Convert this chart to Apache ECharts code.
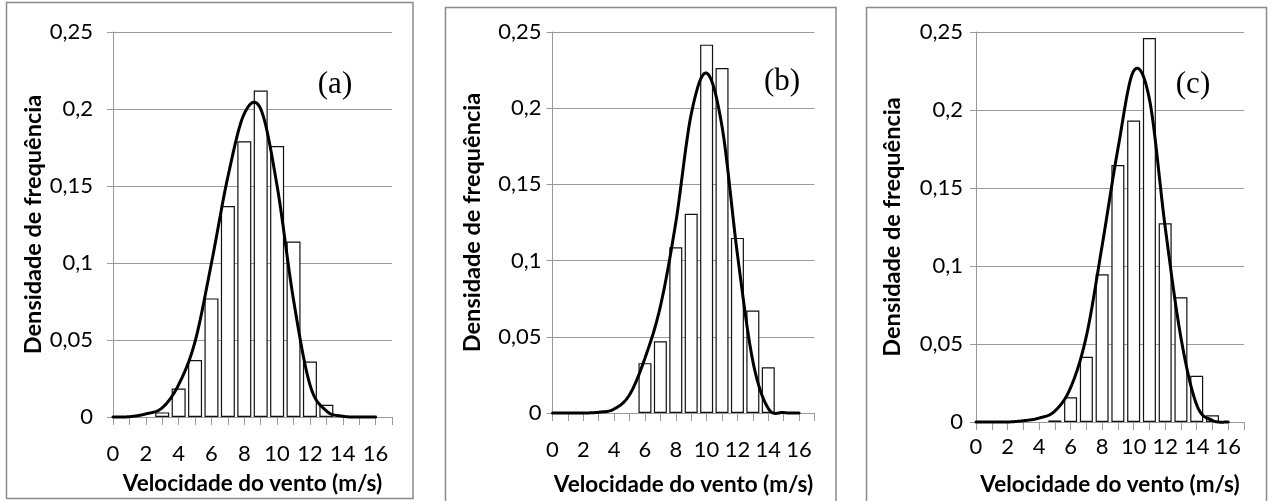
<!DOCTYPE html>
<html>
<head>
<meta charset="utf-8">
<script src="https://cdn.jsdelivr.net/npm/echarts@6/dist/echarts.min.js"></script>
<style>
html,body{margin:0;padding:0;background:#fff;}
#chart{width:1271px;height:501px;}
</style>
</head>
<body>
<div id="chart"></div>
<script>
// Wind speed classes (m/s)
var speeds = [0,1,2,3,4,5,6,7,8,9,10,11,12,13,14,15,16];
// Histogram frequency densities
var barsA = [0,0,0,0.003,0.0185,0.037,0.077,0.137,0.179,0.212,0.176,0.114,0.036,0.008,0,0,0];
var barsB = [0,0,0,0,0,0,0.0327,0.0471,0.1088,0.1307,0.2417,0.2264,0.1149,0.0673,0.030,0,0];
var barsC = [0,0,0,0,0,0.001,0.0158,0.0418,0.0947,0.1647,0.1932,0.2462,0.1274,0.080,0.0296,0.0043,0];
// Fitted density curves (values at each speed)
var curveA = [0,0.0002,0.002,0.006,0.021,0.049,0.100,0.156,0.197,0.200,0.150,0.076,0.021,0.004,0.0005,0,0];
var curveB = [0,0,0,0.0005,0.0026,0.012,0.036,0.070,0.125,0.196,0.223,0.188,0.104,0.034,0.003,0.0003,0];
var curveC = [0,0,0,0.0008,0.0025,0.007,0.022,0.055,0.113,0.175,0.225,0.207,0.125,0.054,0.011,0.001,0];
var xTickLabels = ['0','2','4','6','8','10','12','14','16'];
var yTickValues = [0,0.05,0.1,0.15,0.2,0.25];
var panelLabels = ['(a)','(b)','(c)'];
var xName = 'Velocidade do vento (m/s)';
var yName = 'Densidade de frequência';

var FONT = 'Lato';
var GRID_COLOR = '#9a9a9a';

var grids = [
  {left:113, top:32, width:279, height:385},
  {left:552.5, top:32, width:262, height:382},
  {left:976, top:32, width:268, height:392}
];
var yLabelMargin = [20, 11, 13];
var xLabelMargin = [26, 26, 14];
var xNameGap = [55, 60, 51];
var yNameGap = [67, 68, 72];
var barWidths = [14, 13, 13];

function pairs(vals, skipZero){
  return speeds.map(function(s,i){
    var v = vals[i];
    if (skipZero && !v) return [s, '-'];
    return [s, v];
  });
}

// Excel-style smoothed line: cubic Bezier through the data points,
// tangents from neighbouring points (Catmull-Rom), positioned via api.coord.
function smoothRenderer(vals){
  return function(params, api){
    if (params.dataIndex !== 0) return null;
    var p = speeds.map(function(s,i){ return api.coord([s, vals[i]]); });
    var out = [];
    var n = p.length;
    for (var i = 0; i < n - 1; i++) {
      var p0 = p[Math.max(i-1,0)], p1 = p[i], p2 = p[i+1], p3 = p[Math.min(i+2,n-1)];
      var c1 = [p1[0] + (p2[0]-p0[0])/6, p1[1] + (p2[1]-p0[1])/6];
      var c2 = [p2[0] - (p3[0]-p1[0])/6, p2[1] - (p3[1]-p1[1])/6];
      var steps = 24;
      for (var k = (i === 0 ? 0 : 1); k <= steps; k++) {
        var t = k/steps, u = 1-t;
        var x = u*u*u*p1[0] + 3*u*u*t*c1[0] + 3*u*t*t*c2[0] + t*t*t*p2[0];
        var y = u*u*u*p1[1] + 3*u*u*t*c1[1] + 3*u*t*t*c2[1] + t*t*t*p2[1];
        out.push([x, y]);
      }
    }
    return {
      type: 'polyline',
      shape: {points: out},
      style: {stroke: '#000', lineWidth: 3, fill: null, lineJoin: 'round', lineCap: 'round'},
      z2: 10
    };
  };
}

var xAxes = [], yAxes = [], series = [];
var barSets = [barsA, barsB, barsC];
var curveSets = [curveA, curveB, curveC];
for (var g = 0; g < 3; g++) {
  xAxes.push({
    gridIndex: g, type: 'value', min: 0, max: 17, interval: 1,
    name: xName, nameLocation: 'middle', nameGap: xNameGap[g],
    nameTextStyle: {fontFamily: FONT, fontWeight: 'bold', fontSize: 22.5, color: '#000'},
    axisLine: {show: true, lineStyle: {color: GRID_COLOR, width: 1}},
    axisTick: {show: true, length: 8, lineStyle: {color: GRID_COLOR, width: 1}},
    splitLine: {show: false},
    axisLabel: {
      margin: xLabelMargin[g], fontFamily: FONT, fontSize: 22, color: '#000',
      showMaxLabel: true,
      formatter: function(v){
        var s = String(v);
        return xTickLabels.indexOf(s) >= 0 ? s : '';
      }
    }
  });
  yAxes.push({
    gridIndex: g, type: 'value', min: 0, max: 0.25, interval: 0.05,
    name: yName, nameLocation: 'middle', nameGap: yNameGap[g], nameRotate: 90,
    nameTextStyle: {fontFamily: FONT, fontWeight: 'bold', fontSize: 23.5, color: '#000'},
    axisLine: {show: true, lineStyle: {color: GRID_COLOR, width: 1}},
    axisTick: {show: true, length: 6, lineStyle: {color: GRID_COLOR, width: 1}},
    splitLine: {show: true, lineStyle: {color: GRID_COLOR, width: 1}},
    axisLabel: {
      margin: yLabelMargin[g], fontFamily: FONT, fontSize: 22, color: '#000',
      formatter: function(v){
        var r = Math.round(v*100)/100;
        return yTickValues.indexOf(r) >= 0 ? String(r).replace('.', ',') : '';
      }
    }
  });
  series.push({
    type: 'bar', xAxisIndex: g, yAxisIndex: g,
    data: pairs(barSets[g], true),
    barWidth: barWidths[g],
    itemStyle: {color: '#ffffff', borderColor: '#111', borderWidth: 1.2},
    silent: true, animation: false
  });
  series.push({
    type: 'custom', coordinateSystem: 'cartesian2d', xAxisIndex: g, yAxisIndex: g,
    data: pairs(curveSets[g], false),
    renderItem: smoothRenderer(curveSets[g]),
    z: 5, silent: true, animation: false
  });
}

var chart = echarts.init(document.getElementById('chart'), null, {renderer: 'canvas'});
chart.setOption({
  backgroundColor: '#fff',
  animation: false,
  grid: grids,
  xAxis: xAxes,
  yAxis: yAxes,
  series: series,
  graphic: [
    {type: 'rect', shape: {x: 6.5, y: 2.5, width: 406.5, height: 496}, style: {fill: 'none', stroke: '#8a8a8a', lineWidth: 1.5}, silent: true},
    {type: 'rect', shape: {x: 445.5, y: 7.5, width: 390.5, height: 520}, style: {fill: 'none', stroke: '#8a8a8a', lineWidth: 1.5}, silent: true},
    {type: 'rect', shape: {x: 866.5, y: 7.5, width: 400, height: 520}, style: {fill: 'none', stroke: '#8a8a8a', lineWidth: 1.5}, silent: true},
    {type: 'text', x: 335, y: 85, style: {text: panelLabels[0], font: '31px "Liberation Serif"', fill: '#000', textAlign: 'center', textVerticalAlign: 'middle'}, silent: true},
    {type: 'text', x: 782, y: 82, style: {text: panelLabels[1], font: '31px "Liberation Serif"', fill: '#000', textAlign: 'center', textVerticalAlign: 'middle'}, silent: true},
    {type: 'text', x: 1193, y: 85, style: {text: panelLabels[2], font: '31px "Liberation Serif"', fill: '#000', textAlign: 'center', textVerticalAlign: 'middle'}, silent: true}
  ]
});
</script>
</body>
</html>
